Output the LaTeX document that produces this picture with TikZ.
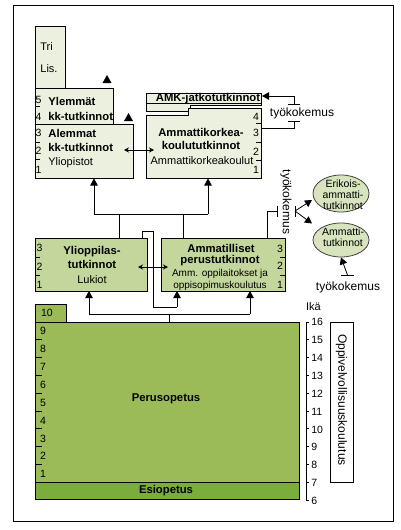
\documentclass[tikz,border=0pt]{standalone}
\usepackage{fontspec}
\setmainfont{Liberation Sans}
\usetikzlibrary{arrows.meta,shapes.geometric,calc}
\definecolor{lgreen}{HTML}{EBF1DE}
\definecolor{mgreen}{HTML}{C3D69B}
\definecolor{pgreen}{HTML}{9BBB59}
\definecolor{egreen}{HTML}{7BAD3C}
\definecolor{elgreen}{HTML}{D7E4BD}
\begin{document}
\begin{tikzpicture}[x=1pt,y=-1pt,line width=0.8pt,
  tri/.style={-{Triangle[length=7pt,width=7.5pt]}},
  dbl/.style={{Stealth[length=5pt,width=5pt]}-{Stealth[length=5pt,width=5pt]}},
  lightbox/.style={draw=black,fill=lgreen},
  recbox/.style={draw=black,inner sep=0pt,outer sep=0pt},
  ntxt/.style={font=\fontsize{11}{12}\selectfont,inner sep=0pt},
  stxt/.style={font=\fontsize{10}{12}\selectfont,inner sep=0pt},
  etxt/.style={font=\fontsize{10.5}{12}\selectfont,inner sep=0pt},
  btxt/.style={font=\fontsize{11.3}{13}\selectfont\bfseries,inner sep=0pt},
  num/.style={font=\fontsize{10.5}{11}\selectfont,inner sep=0pt},
  big/.style={font=\fontsize{12}{13}\selectfont,inner sep=0pt},
  tick/.style={line width=0.8pt}]
\useasboundingbox (0,0) rectangle (400,530);
\draw (13,5) rectangle (393,521);

% ---------- Yliopistot ----------
\draw[lightbox] (35,26) -- (65,26) -- (65,88) -- (113,88) -- (113,124) -- (133,124)
  -- (133,178) -- (35,178) -- cycle;
\draw (35,88) -- (65,88);
\draw (35,124) -- (113,124);
\foreach \y in {106,142,159} \draw[tick] (35,\y) -- (40,\y);
\node[num] (yn5) at (38.5,100) {5};
\node[num] (yn4) at (38.5,117) {4};
\node[num] (yn3) at (38.5,133) {3};
\node[num] (yn2) at (38.5,151) {2};
\node[num] (yn1) at (38.5,170) {1};
\node[ntxt,anchor=west] (tri) at (40,47) {Tri};
\node[ntxt,anchor=west] (lis) at (40,69) {Lis.};
\node[btxt,anchor=west] (yl1) at (48,101) {Ylemmät};
\node[btxt,anchor=west] (yl2) at (48,116) {kk-tutkinnot};
\node[btxt,anchor=west] (al1) at (48,133) {Alemmat};
\node[btxt,anchor=west] (al2) at (48,147) {kk-tutkinnot};
\node[ntxt,anchor=west] (ylio) at (48,162.5) {Yliopistot};
\fill (107,75) -- (111.5,83) -- (102.5,83) -- cycle;
\fill (128.5,113) -- (133,121) -- (124,121) -- cycle;

% ---------- AMK ----------
\draw[lightbox] (146,93) -- (261,93) -- (261,105) -- (190,105) -- (190,111) -- (146,111) -- cycle;
\draw (146,103) -- (261,103);
\node[btxt,anchor=base] (jatko) at (208,101.5) {AMK-jatkotutkinnot};
\draw[lightbox] (146,115) -- (188,115) -- (188,108) -- (261,108) -- (261,178) -- (146,178) -- cycle;
\foreach \y in {123,142,160} \draw[tick] (256,\y) -- (261,\y);
\node[num] (an4) at (256,117) {4};
\node[num] (an3) at (256,133) {3};
\node[num] (an2) at (256,152) {2};
\node[num] (an1) at (256,170) {1};
\node[btxt] (amk1) at (201,132) {Ammattikorkea-};
\node[btxt] (amk2) at (201,145) {koulututkinnot};
\node[ntxt] (amk3) at (202,161) {Ammattikorkeakoulut};
\coordinate (ylr) at (124,150);
\coordinate (amkl) at (154,150);
\draw[dbl] (ylr) -- (amkl);

% työkokemus (top)
\coordinate (tkA) at (261,128);
\coordinate (tkB) at (294,121);
\coordinate (tkC) at (294,104);
\coordinate (tkD) at (262,96);
\draw (tkA) -| (tkB);
\draw (288,121) -- (300,121);
\draw (288,104) -- (300,104);
\draw[tri] (tkC) |- (tkD);
\node[big] (tk1) at (302,113) {työkokemus};

% ---------- Lower boxes ----------
\node[recbox,fill=mgreen,minimum width=112pt,minimum height=53pt] (ylop) at (91,264.5) {};
\foreach \y in {257,275} \draw[tick] (35,\y) -- (40,\y);
\node[num] (ln3) at (39.5,248) {3};
\node[num] (ln2) at (39.5,267) {2};
\node[num] (ln1) at (39.5,285) {1};
\node[btxt] (yo1) at (92,252) {Ylioppilas-};
\node[btxt] (yo2) at (92,264) {tutkinnot};
\node[ntxt] (yo3) at (92,280) {Lukiot};

\node[recbox,fill=mgreen,minimum width=124pt,minimum height=53pt] (amm) at (223,264.5) {};
\foreach \y in {257,275} \draw[tick] (280,\y) -- (285,\y);
\node[num] (rn3) at (280,249) {3};
\node[num] (rn2) at (280,266) {2};
\node[num] (rn1) at (280,285) {1};
\node[btxt] (am1) at (221,248) {Ammatilliset};
\node[btxt] (am2) at (220,261) {perustutkinnot};
\node[stxt] (am3) at (220,273.5) {Amm. oppilaitokset ja};
\node[stxt] (am4) at (220,286) {oppisopimuskoulutus};
\coordinate (yor) at (138,267);
\coordinate (aml) at (168,267);
\draw[dbl] (yor) -- (aml);

% connectors up to the top level
\coordinate (hl) at (94,214);
\coordinate (hr) at (208,214);
\coordinate (v1) at (119,214);
\coordinate (v2) at (183,214);
\draw (hl) -- (hr);
\draw[tri] (hl) -- (94,178.5);
\draw[tri] (hr) -- (208,178.5);
\draw (ylop.north -| v1) -- (v1);
\draw (amm.north -| v2) -- (v2);

% työkokemus to ellipses
\coordinate (ta) at (267,211);
\coordinate (tb) at (277,211);
\coordinate (tc) at (295,211);
\draw (amm.north -| ta) -- (ta) -- (tb);
\draw (277,205.5) -- (277,216.5);
\draw (295,205.5) -- (295,216.5);
\node[big,rotate=-90] (tk2) at (286,202) {työkokemus};

\node[ellipse,draw=black!75,fill=elgreen,minimum width=56pt,minimum height=37pt,inner sep=0pt] (erik) at (341,193.5) {};
\node[etxt] (er1) at (343,184) {Erikois-};
\node[etxt] (er2) at (343,195) {ammatti-};
\node[etxt] (er3) at (343,206) {tutkinnot};
\node[ellipse,draw=black!75,fill=elgreen,minimum width=56pt,minimum height=34pt,inner sep=0pt] (ammt) at (341,240) {};
\node[etxt] (at1) at (343,232) {Ammatti-};
\node[etxt] (at2) at (343,243) {tutkinnot};
\draw[tri] (tc) -- (312,200);
\draw[tri] (tc) -- (312,223.5);

\coordinate (tk3b) at (347.5,275);
\draw (341,275) -- (354,275);
\draw[tri] (tk3b) -- (ammt.south);
\node[big] (tk3) at (348,287) {työkokemus};

% ---------- Perusopetus ----------
\node[recbox,fill=pgreen,minimum width=31pt,minimum height=18pt] (tab) at (50.5,313) {};
\node[recbox,fill=pgreen,minimum width=264pt,minimum height=160pt] (perus) at (167,402) {};
\node[recbox,fill=egreen,minimum width=264pt,minimum height=17pt] (esi) at (167,490.5) {};
\node[num] (n10) at (47,313) {10};
\foreach \k in {0,...,7} \draw[tick] (35,{339.8+17.8*\k}) -- (42,{339.8+17.8*\k});
\foreach \n in {9,...,1} \node[num] (pn\n) at (43,{331+17.9*(9-\n)}) {\n};
\node[btxt] (pt) at (166,399) {Perusopetus};
\node[btxt] (et) at (166,490.5) {Esiopetus};

% connectors from Perusopetus
\coordinate (j1) at (169,314);
\coordinate (jl) at (89,314);
\coordinate (jr) at (250,314);
\draw (perus.north -| j1) -- (j1);
\draw (jl) -- (jr);
\draw[tri] (jl) -- (jl |- ylop.south);
\draw[tri] (jr) -- (jr |- amm.south);
\coordinate (m1) at (142,231);
\coordinate (m2) at (153,307);
\coordinate (m3) at (177,307);
\draw (ylop.north -| m1) -- (m1) -| (m2) -- (m3);
\draw[tri] (m3) -- (m3 |- amm.south);

% ---------- Age scale ----------
\draw (309,322) -- (306,322) -- (306,500) -- (309,500);
\foreach \k in {1,...,9} \draw (306,{322+17.8*\k}) -- (309,{322+17.8*\k});
\foreach \a in {16,...,6} \node[num,anchor=west] (age\a) at (311,{322+17.9*(16-\a)}) {\a};
\node[ntxt] (ika) at (313.5,307) {Ikä};
\node[recbox,fill=white,minimum width=23pt,minimum height=160pt] (oppiv) at (341.5,402) {};
\node[big,rotate=-90] (oppt) at (341.5,400) {Oppivelvollisuuskoulutus};
\end{tikzpicture}
\end{document}
